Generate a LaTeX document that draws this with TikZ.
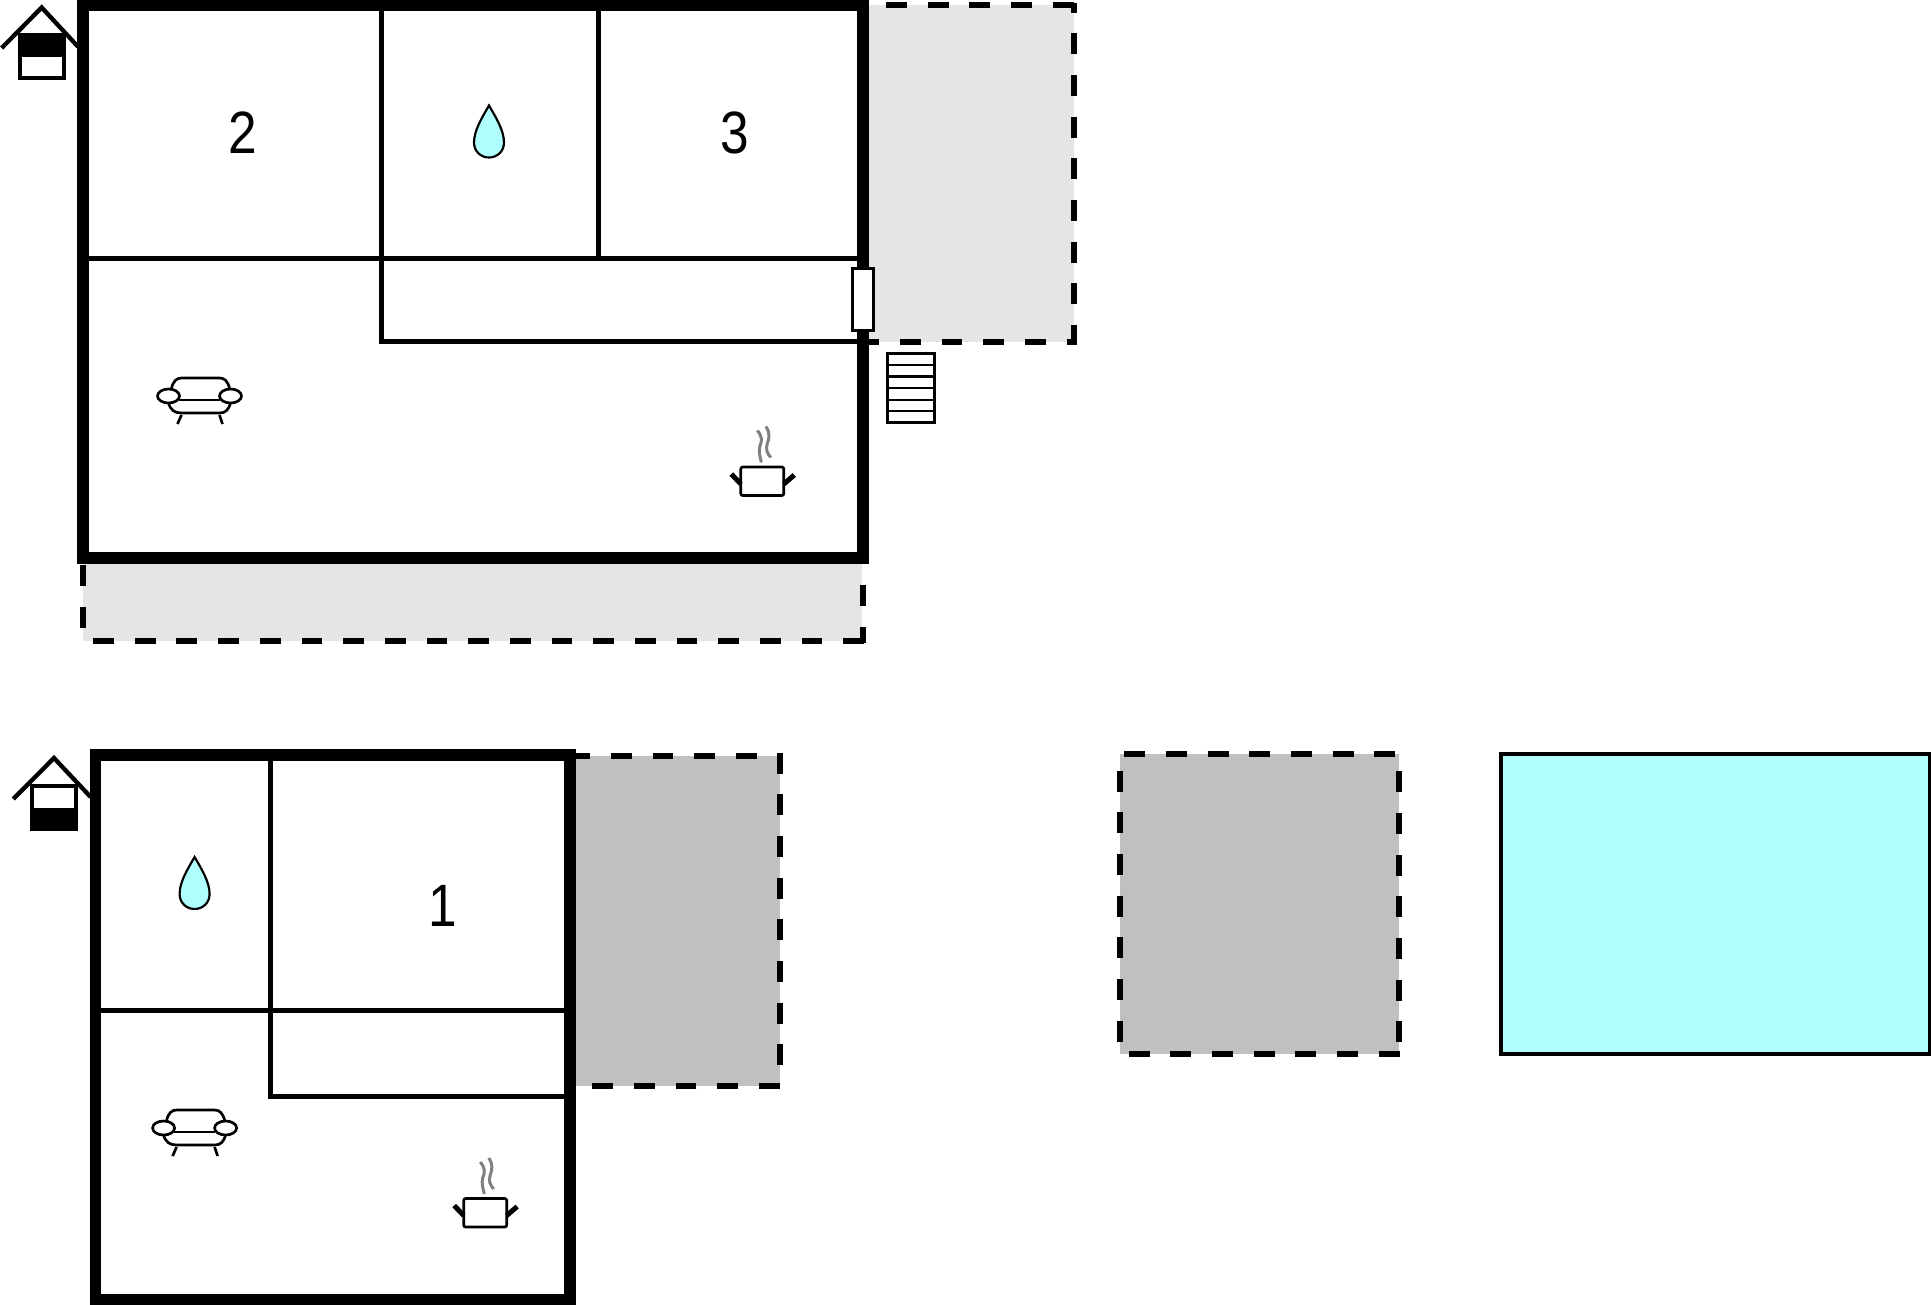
\documentclass[tikz,border=0pt]{standalone}
\usepackage{fontspec}
\setmainfont{Liberation Sans}
\newfontfamily\roomfont[FakeStretch=0.86]{Liberation Sans}
\usepackage{tikz}
\definecolor{colordeck}{HTML}{E5E5E5}
\definecolor{colorslab}{HTML}{C0C0C0}
\definecolor{colorpool}{HTML}{AFFFFF}
\tikzset{
  wallout/.style={black, line width=3.4mm, line cap=rect},
  wallin/.style={black, line width=1.5mm},
  dashline/.style={black, line width=1.8mm, dash pattern=on 6.25mm off 6.25mm},
  roofline/.style={black, line width=1.3mm},
  thin line/.style={black, line width=0.65mm},
  roomno/.style={inner sep=0pt, font=\roomfont\fontsize{51}{51}\selectfont},
  drop/.pic={
    \draw[thin line, fill=colorpool] (0,-26) .. controls (-7,-14) and (-15,-1) .. (-15,11)
      .. controls (-15,20) and (-8,26) .. (0,26) .. controls (8,26) and (15,20) .. (15,11)
      .. controls (15,-1) and (7,-14) .. (0,-26) -- cycle;
  },
  sofa/.pic={
    \draw[thin line, line width=0.8mm] (-28,-8) .. controls (-26,-15) and (-23,-18) .. (-18,-18) -- (20,-18)
      .. controls (25,-18) and (28,-15) .. (30,-8);
    \draw[thin line, line width=0.8mm] (-31,7) .. controls (-29,14) and (-25,17) .. (-18,17) -- (20,17)
      .. controls (26,17) and (29,14) .. (31,7);
    \draw[thin line, line width=0.8mm] (-21,4) -- (20,4);
    \draw[thin line, line width=0.8mm] (-18,19) -- (-22,28);
    \draw[thin line, line width=0.8mm] (20,19) -- (23,28);
    \draw[thin line, line width=0.8mm, fill=white] (-31,0) ellipse (11 and 7);
    \draw[thin line, line width=0.8mm, fill=white] (31,0) ellipse (11 and 7);
  },
  pot/.pic={
    \draw[line width=0.9mm, gray] (-5,-50) .. controls (0,-44) and (0,-40) .. (-2.5,-34)
      .. controls (-4,-28) and (-2,-24) .. (-1,-18);
    \draw[line width=0.9mm, gray] (3.5,-54) .. controls (8,-48) and (7,-42) .. (5,-37)
      .. controls (3,-31) and (5,-27) .. (8.5,-23);
    \draw[thin line, line width=0.8mm, rounded corners=0.6mm] (-21.5,-13.5) rectangle (21.5,15);
    \draw[black, line width=1.5mm] (-21.5,3.5) -- (-31,-6.5);
    \draw[black, line width=1.5mm] (21.5,3.5) -- (32,-5.5);
  }
}
\begin{document}
\begin{tikzpicture}[x=0.3mm, y=-0.3mm]
\useasboundingbox (0,0) rectangle (1931,1304);
\fill[colordeck] (868,5) rectangle (1074,341.5);
\fill[colordeck] (83,563) rectangle (862,640.5);
\fill[colorslab] (570,755.7) rectangle (780,1086);
\fill[colorslab] (1120,754) rectangle (1399.3,1053.5);
\fill[colorpool] (1501,754) rectangle (1930,1054);
\draw[black, line width=1.3mm] (1501,754) rectangle (1930,1054);

\draw[dashline, dash phase=7.1mm] (868,5) -- (1076.6,5);
\draw[dashline, dash phase=3.24mm] (1074,2.5) -- (1074,341.5);
\draw[dashline, dash phase=2.94mm] (868,341.5) -- (1076.6,341.5);
\draw[dashline, dash phase=11.9mm] (83,563) -- (83,642.5);
\draw[dashline, dash phase=1.5mm] (862.5,642.5) -- (862.5,563);
\draw[dashline] (864,640.5) -- (83,640.5);
\draw[dashline, dash phase=0.24mm] (570,755.7) -- (780,755.7);
\draw[dashline] (780,752.7) -- (780,1086);
\draw[dashline] (779.7,1086) -- (570,1086);
\draw[dashline, dash phase=11.2mm] (1120,754) -- (1399.3,754);
\draw[dashline, dash phase=7.3mm] (1399.3,754) -- (1399.3,1053.5);
\draw[dashline] (1399.5,1053.5) -- (1120,1053.5);
\draw[dashline, dash phase=7.5mm] (1120,754) -- (1120,1053.5);

\draw[wallin] (381,5) -- (381,341.5) -- (863,341.5);
\draw[wallin] (598,5) -- (598,258);
\draw[wallin] (83,258) -- (863,258);
\draw[wallout] (83,5) rectangle (863,558);
\draw[thin line, fill=white] (852.5,268.5) rectangle (873.5,330.5);
\draw[thin line, fill=white] (887.5,353.5) rectangle (934.5,422.5);
\foreach \stepy in {365,376.5,388,400,411} {
  \draw[thin line] (887.5,\stepy) -- (934.5,\stepy);
}

\draw[wallin] (270,755) -- (270,1096) -- (570,1096);
\draw[wallin] (95.7,1010.5) -- (570,1010.5);
\draw[wallout] (95.7,755) rectangle (570,1299.5);

\fill[black] (17.7,33) rectangle (65.7,80);
\fill[white] (22,57) rectangle (61.7,76);
\draw[roofline] (1.7,48) -- (41.7,7.5) -- (78,46.7);
\fill[black] (30.3,783.5) rectangle (77.7,830.5);
\fill[white] (34.3,788) rectangle (73.7,808);
\draw[roofline] (13.3,799) -- (54,758) -- (90.7,797);

\node[roomno] (room2) at (242.5,133) {2};
\node[roomno] (room3) at (735,133) {3};
\node[roomno] (room1) at (443,906) {1};
\path (489,131.5) pic {drop};
\path (194.6,883) pic {drop};
\path (199.5,396) pic {sofa};
\path (194.6,1128) pic {sofa};
\path (762.3,480.5) pic {pot};
\path (485.2,1212) pic {pot};
\end{tikzpicture}
\end{document}
